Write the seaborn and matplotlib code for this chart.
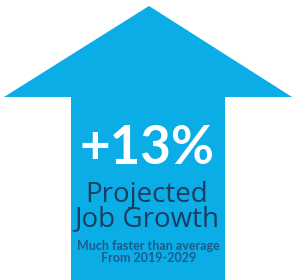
import matplotlib
matplotlib.use("Agg")
import matplotlib.pyplot as plt
import seaborn as sns
from matplotlib.patches import Polygon

# values shown on the graphic
growth_pct = 13
start_year = 2019
end_year = 2029
headline = ["Projected", "Job Growth"]
note = "Much faster than average"

sns.set_style("white")
plt.rcParams['font.family'] = ['Lato', 'DejaVu Sans']

arrow_blue = "#0BADE6"
navy = "#1B3D60"
mid_blue = "#1D5B8C"

W, H = 293, 280
fig = plt.figure(figsize=(W / 100, H / 100), dpi=100)
ax = fig.add_axes([0, 0, 1, 1])
ax.set_xlim(0, W)
ax.set_ylim(H, 0)
ax.axis("off")

# up arrow: head tip, head base, shaft
tip_x, tip_y = 149, 6
head_l, head_r, head_y = 4, 292, 97
shaft_l, shaft_r = 71, 225
arrow = Polygon([(tip_x, tip_y), (head_r, head_y), (shaft_r, head_y), (shaft_r, H + 5),
                 (shaft_l, H + 5), (shaft_l, head_y), (head_l, head_y)],
                closed=True, facecolor=arrow_blue, edgecolor="none")
ax.add_patch(arrow)

cx = (shaft_l + shaft_r) / 2
ax.text(cx - 1, 148, f"+{growth_pct}%", color="white", fontsize=38, fontweight="bold",
        ha="center", va="center")
ax.text(cx - 1, 207, "\n".join(headline), color=navy, fontsize=20, linespacing=0.85,
        ha="center", va="center", multialignment="center",
        family=['Open Sans', 'DejaVu Sans'])
ax.text(cx, 246, note, color=mid_blue, fontsize=9, fontweight="bold",
        ha="center", va="center")
ax.text(cx + 1, 258, f"From {start_year}-{end_year}", color=mid_blue, fontsize=9,
        fontweight="bold", ha="center", va="center")

fig.savefig("out.png", dpi=100)
